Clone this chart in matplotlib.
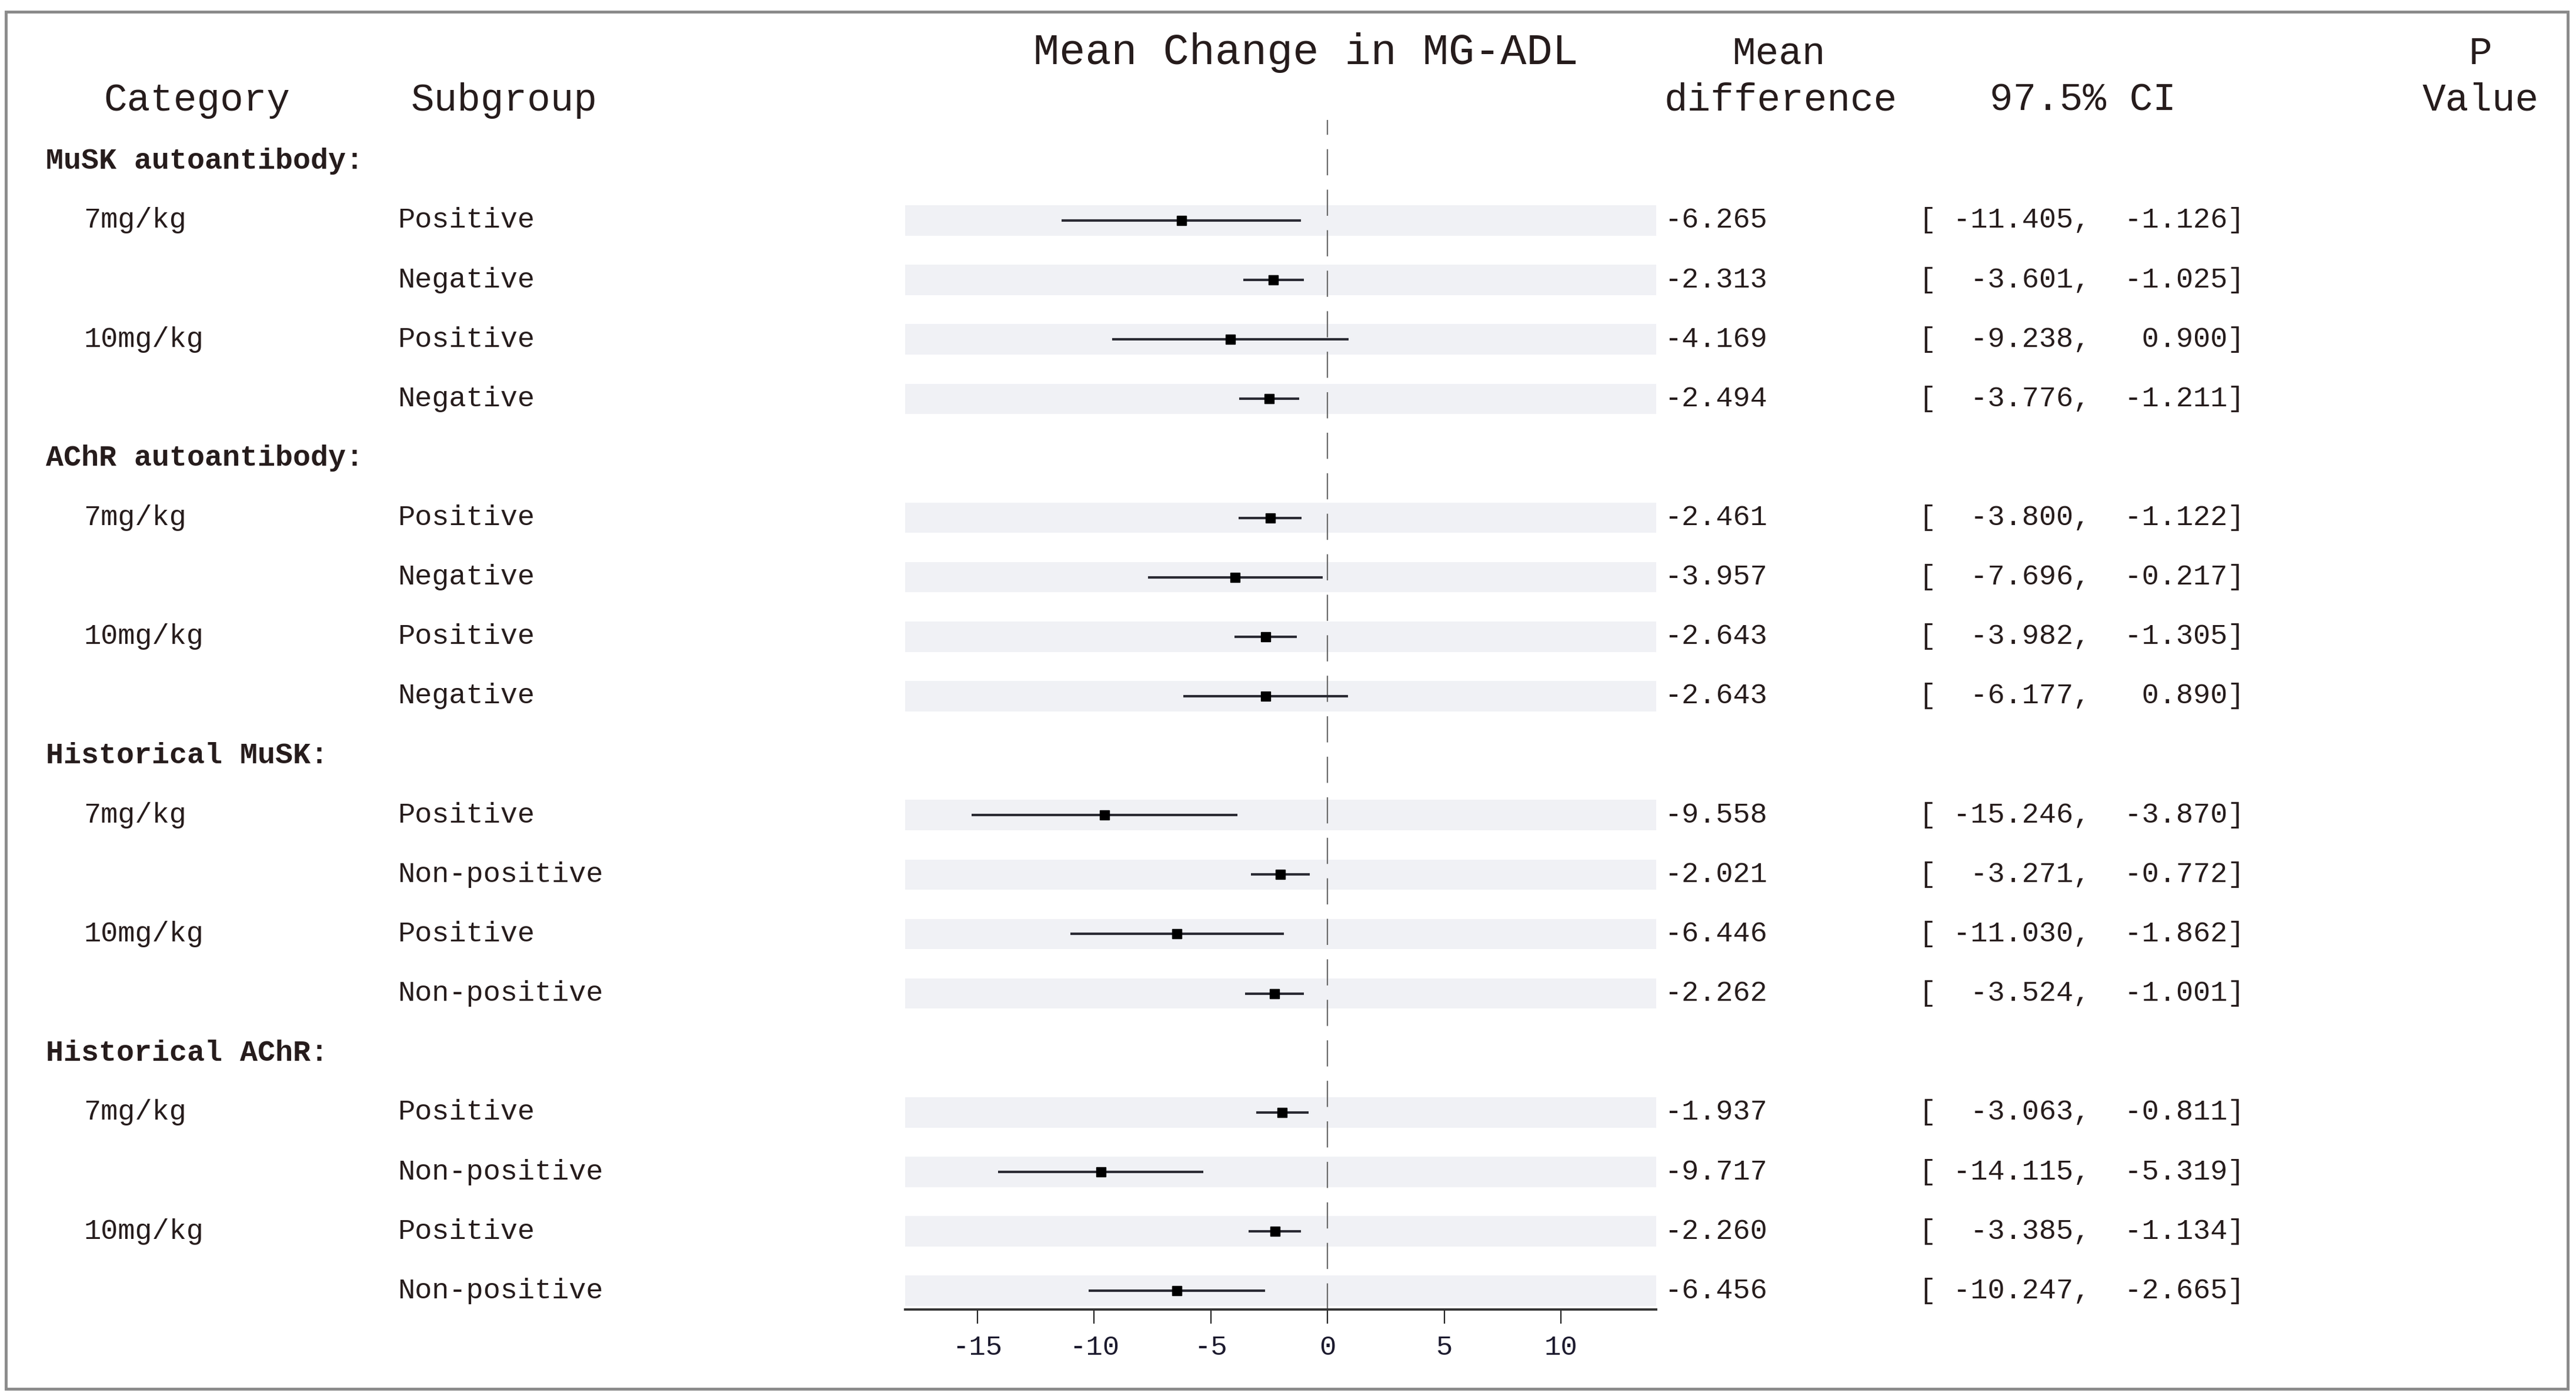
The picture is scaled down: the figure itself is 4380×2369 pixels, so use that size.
import numpy as np
import matplotlib.pyplot as plt
import matplotlib.transforms as mtransforms
from matplotlib.patches import Rectangle

# Données
groups = ["MuSK autoantibody:", "AChR autoantibody:", "Historical MuSK:", "Historical AChR:"]
doses = ["7mg/kg", "10mg/kg"]
subgroups = [["Positive", "Negative"], ["Positive", "Negative"],
             ["Positive", "Non-positive"], ["Positive", "Non-positive"]]

mean_diff = [-6.265, -2.313, -4.169, -2.494,
             -2.461, -3.957, -2.643, -2.643,
             -9.558, -2.021, -6.446, -2.262,
             -1.937, -9.717, -2.260, -6.456]
ci_low = [-11.405, -3.601, -9.238, -3.776,
          -3.800, -7.696, -3.982, -6.177,
          -15.246, -3.271, -11.030, -3.524,
          -3.063, -14.115, -3.385, -10.247]
ci_high = [-1.126, -1.025, 0.900, -1.211,
           -1.122, -0.217, -1.305, 0.890,
           -3.870, -0.772, -1.862, -1.001,
           -0.811, -5.319, -1.134, -2.665]
xticks = [-15, -10, -5, 0, 5, 10]

FONT = "Liberation Mono"
TXT = "#261c1c"
BAND = "#f0f1f5"

fig = plt.figure(figsize=(43.8, 23.69), dpi=100)
ax = fig.add_axes([0.3514, 0.0601, 0.29146, 0.85378])
xlim = (-18.1, 14.08)
ax.set_xlim(*xlim)
ax.set_ylim(19.31, -0.69)

# positions des lignes : un en-tête puis 4 lignes par groupe
header_rows = [5 * g for g in range(len(groups))]
data_rows = [5 * g + 1 + k for g in range(len(groups)) for k in range(4)]

# bandes grises derrière chaque ligne
ax.barh(data_rows, xlim[1] - xlim[0], left=xlim[0], height=0.51,
        color=BAND, zorder=0)
ax.axvline(0, color="#6a6a6a", lw=1.6, dashes=(20, 11), zorder=1)

ax.hlines(data_rows, ci_low, ci_high, color="#2a2a33", lw=3.0, zorder=2)
ax.plot(mean_diff, data_rows, "s", color="black", ms=12, zorder=3)

for s in ["top", "left", "right"]:
    ax.spines[s].set_visible(False)
ax.spines["bottom"].set_linewidth(2.8)
ax.spines["bottom"].set_color("#333333")
ax.set_yticks([])
ax.set_xticks(xticks)
ax.set_xticklabels([str(t) for t in xticks])
ax.tick_params(axis="x", direction="out", length=17, width=1.6, pad=14,
               labelsize=34, colors="#222222", labelcolor="#1c1a2e")
for lab in ax.get_xticklabels():
    lab.set_fontfamily(FONT)

# textes : x en coordonnées figure, y en coordonnées données
tr = mtransforms.blended_transform_factory(fig.transFigure, ax.transData)

def put(x, y, s, size=35, ha="left", weight="normal"):
    fig.text(x / 1568, y, s, transform=tr, ha=ha, va="center",
             fontsize=size, family=FONT, color=TXT, weight=weight)

# en-têtes de colonnes
put(63, -1.02, "Category", 47.5)
put(250, -1.02, "Subgroup", 47.5)
put(629, -1.82, "Mean Change in MG-ADL", 53)
put(1083, -1.8, "Mean", 47.5, ha="center")
put(1013, -1.02, "difference", 47.5)
put(1211, -1.02, "97.5% CI", 47.5)
put(1510, -1.8, "P", 47.5, ha="center")
put(1510, -1.02, "Value", 47.5, ha="center")

for g, name in enumerate(groups):
    put(28, header_rows[g], name, 36, weight="bold")
    for d, dose in enumerate(doses):
        put(51, 5 * g + 1 + 2 * d, dose)

for i, r in enumerate(data_rows):
    g = i // 4
    put(242, r, subgroups[g][i % 2])
    put(1013, r, f"{mean_diff[i]:.3f}")
    put(1168, r, f"[{ci_low[i]:8.3f}, {ci_high[i]:7.3f}]")

# cadre gris
fig.patches.append(Rectangle((0.0023, 0.003), 0.9945, 0.9886,
                             transform=fig.transFigure, fill=False,
                             ec="#8a8a8a", lw=3.5))

fig.savefig("out.png", dpi=100)
